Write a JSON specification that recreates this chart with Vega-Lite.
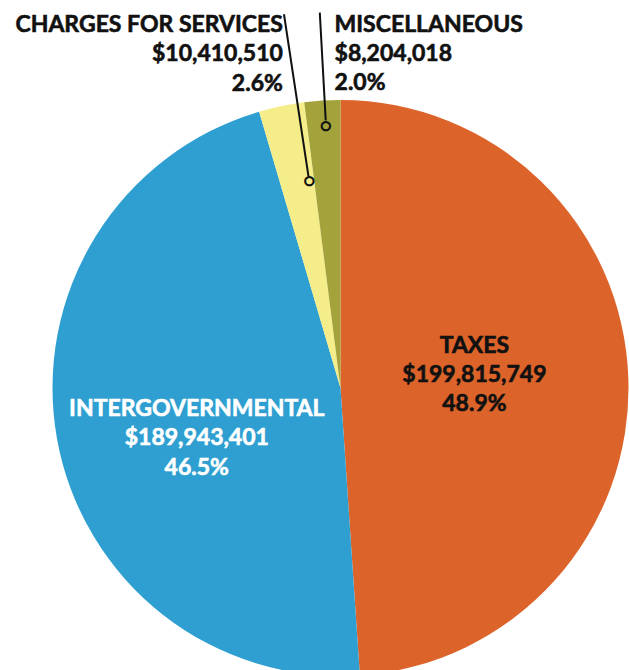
{
  "$schema": "https://vega.github.io/schema/vega-lite/v6.json",
  "width": 577,
  "height": 564,
  "autosize": {"type": "none"},
  "padding": {"left": 52, "top": 106, "right": 0, "bottom": 0},
  "background": "white",
  "config": {
    "view": {"stroke": null},
    "text": {"font": "Lato", "fontWeight": "bold", "fontSize": 23, "strokeWidth": 0.6}
  },
  "data": {
    "values": [
      {"category": "TAXES", "amount": 199815749, "share": 0.489, "order": 1},
      {"category": "INTERGOVERNMENTAL", "amount": 189943401, "share": 0.465, "order": 2},
      {"category": "CHARGES FOR SERVICES", "amount": 10410510, "share": 0.026, "order": 3},
      {"category": "MISCELLANEOUS", "amount": 8204018, "share": 0.020, "order": 4}
    ]
  },
  "encoding": {
    "theta": {"field": "amount", "type": "quantitative", "stack": true},
    "order": {"field": "order", "type": "quantitative", "sort": "ascending"}
  },
  "layer": [
    {
      "mark": {"type": "arc", "outerRadius": 288},
      "encoding": {
        "color": {
          "field": "category",
          "type": "nominal",
          "scale": {
            "domain": ["TAXES", "INTERGOVERNMENTAL", "CHARGES FOR SERVICES", "MISCELLANEOUS"],
            "range": ["#DC6329", "#2E9FD0", "#F4ED8A", "#A3A23B"]
          },
          "legend": null
        }
      }
    },
    {
      "mark": {"type": "arc", "innerRadius": 214, "outerRadius": 378, "thetaOffset": 0.0562, "padAngle": 0.5, "fill": "#111111", "stroke": "#111111", "strokeWidth": 2},
      "encoding": {
        "opacity": {"condition": {"test": "datum.category === 'CHARGES FOR SERVICES'", "value": 1}, "value": 0}
      }
    },
    {
      "mark": {"type": "arc", "innerRadius": 268, "outerRadius": 376, "thetaOffset": 0.008, "padAngle": 0.5, "fill": "#111111", "stroke": "#111111", "strokeWidth": 2},
      "encoding": {
        "opacity": {"condition": {"test": "datum.category === 'MISCELLANEOUS'", "value": 1}, "value": 0}
      }
    },
    {
      "mark": {"type": "text", "radius": 209, "dx": 11.5, "dy": -2, "font": "DejaVu Sans", "fontWeight": "normal", "fontSize": 11, "baseline": "middle", "align": "center", "fill": "#F4ED8A", "stroke": "#111111", "strokeWidth": 2},
      "encoding": {
        "text": {"condition": {"test": "datum.category === 'CHARGES FOR SERVICES'", "value": "●"}, "value": ""}
      }
    },
    {
      "mark": {"type": "text", "radius": 263, "dx": 2, "dy": 0, "font": "DejaVu Sans", "fontWeight": "normal", "fontSize": 11, "baseline": "middle", "align": "center", "fill": "#A3A23B", "stroke": "#111111", "strokeWidth": 2},
      "encoding": {
        "text": {"condition": {"test": "datum.category === 'MISCELLANEOUS'", "value": "●"}, "value": ""}
      }
    },
    {
      "mark": {"type": "text", "radius": 134, "dy": -30, "align": "center", "baseline": "alphabetic", "fill": "#111111", "stroke": "#111111"},
      "encoding": {
        "text": {"condition": {"test": "datum.category === 'TAXES'", "field": "category", "type": "nominal"}, "value": ""}
      }
    },
    {
      "mark": {"type": "text", "radius": 134, "dy": -1, "align": "center", "baseline": "alphabetic", "fill": "#111111", "stroke": "#111111"},
      "encoding": {
        "text": {"condition": {"test": "datum.category === 'TAXES'", "field": "amount", "type": "quantitative", "format": "$,.0f"}, "value": ""}
      }
    },
    {
      "mark": {"type": "text", "radius": 134, "dy": 28, "align": "center", "baseline": "alphabetic", "fill": "#111111", "stroke": "#111111"},
      "encoding": {
        "text": {"condition": {"test": "datum.category === 'TAXES'", "field": "share", "type": "quantitative", "format": ".1%"}, "value": ""}
      }
    },
    {
      "mark": {"type": "text", "radius": 147, "dx": 1, "dy": 2, "align": "center", "baseline": "alphabetic", "fill": "#FFFFFF", "stroke": "#FFFFFF"},
      "encoding": {
        "text": {"condition": {"test": "datum.category === 'INTERGOVERNMENTAL'", "field": "category", "type": "nominal"}, "value": ""}
      }
    },
    {
      "mark": {"type": "text", "radius": 147, "dx": 1, "dy": 31.5, "align": "center", "baseline": "alphabetic", "fill": "#FFFFFF", "stroke": "#FFFFFF"},
      "encoding": {
        "text": {"condition": {"test": "datum.category === 'INTERGOVERNMENTAL'", "field": "amount", "type": "quantitative", "format": "$,.0f"}, "value": ""}
      }
    },
    {
      "mark": {"type": "text", "radius": 147, "dx": 1, "dy": 61, "align": "center", "baseline": "alphabetic", "fill": "#FFFFFF", "stroke": "#FFFFFF"},
      "encoding": {
        "text": {"condition": {"test": "datum.category === 'INTERGOVERNMENTAL'", "field": "share", "type": "quantitative", "format": ".1%"}, "value": ""}
      }
    },
    {
      "mark": {"type": "text", "radius": 340, "dx": 12, "dy": -23.7, "align": "right", "baseline": "alphabetic", "fill": "#111111", "stroke": "#111111"},
      "encoding": {
        "text": {"condition": {"test": "datum.category === 'CHARGES FOR SERVICES'", "field": "category", "type": "nominal"}, "value": ""}
      }
    },
    {
      "mark": {"type": "text", "radius": 340, "dx": 12, "dy": 5.8, "align": "right", "baseline": "alphabetic", "fill": "#111111", "stroke": "#111111"},
      "encoding": {
        "text": {"condition": {"test": "datum.category === 'CHARGES FOR SERVICES'", "field": "amount", "type": "quantitative", "format": "$,.0f"}, "value": ""}
      }
    },
    {
      "mark": {"type": "text", "radius": 340, "dx": 12, "dy": 35.3, "align": "right", "baseline": "alphabetic", "fill": "#111111", "stroke": "#111111"},
      "encoding": {
        "text": {"condition": {"test": "datum.category === 'CHARGES FOR SERVICES'", "field": "share", "type": "quantitative", "format": ".1%"}, "value": ""}
      }
    },
    {
      "mark": {"type": "text", "radius": 340, "dx": 15.5, "dy": -16.7, "align": "left", "baseline": "alphabetic", "fill": "#111111", "stroke": "#111111"},
      "encoding": {
        "text": {"condition": {"test": "datum.category === 'MISCELLANEOUS'", "field": "category", "type": "nominal"}, "value": ""}
      }
    },
    {
      "mark": {"type": "text", "radius": 340, "dx": 15.5, "dy": 12.3, "align": "left", "baseline": "alphabetic", "fill": "#111111", "stroke": "#111111"},
      "encoding": {
        "text": {"condition": {"test": "datum.category === 'MISCELLANEOUS'", "field": "amount", "type": "quantitative", "format": "$,.0f"}, "value": ""}
      }
    },
    {
      "mark": {"type": "text", "radius": 340, "dx": 15.5, "dy": 41.3, "align": "left", "baseline": "alphabetic", "fill": "#111111", "stroke": "#111111"},
      "encoding": {
        "text": {"condition": {"test": "datum.category === 'MISCELLANEOUS'", "field": "share", "type": "quantitative", "format": ".1%"}, "value": ""}
      }
    }
  ]
}
